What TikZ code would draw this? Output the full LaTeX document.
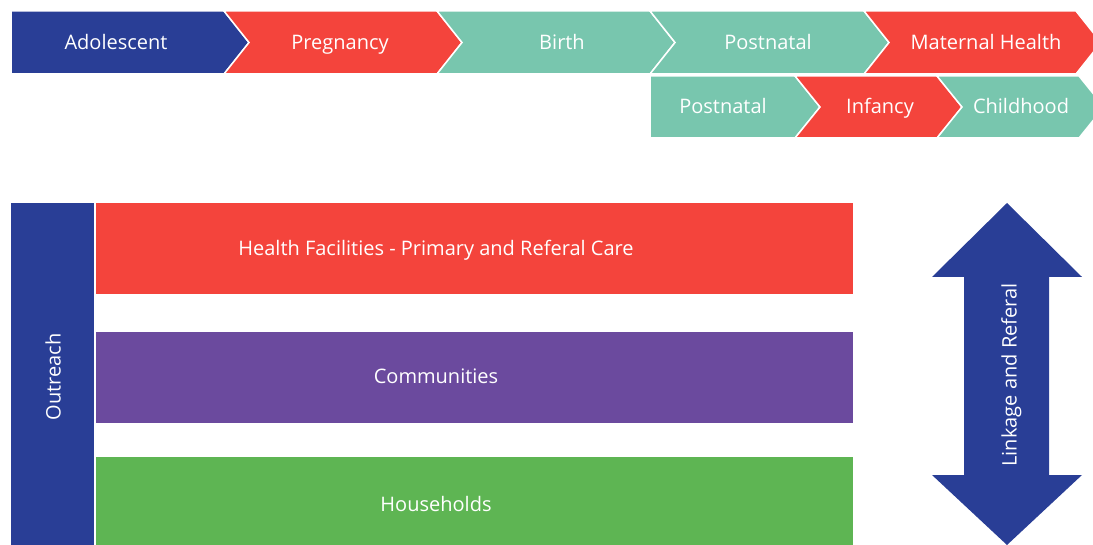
\documentclass[tikz,border=0pt]{standalone}
\usepackage{fontspec}
\setmainfont{Open Sans}
\definecolor{careblue}{HTML}{293E96}
\definecolor{carered}{HTML}{F4443C}
\definecolor{careteal}{HTML}{78C6AE}
\definecolor{carepurple}{HTML}{6B4A9E}
\definecolor{caregreen}{HTML}{5EB553}
\begin{document}
\begin{tikzpicture}[x=1pt,y=-1pt,
    lbl/.style={text=white, inner sep=0pt, text height=0.72em, text depth=0pt,
        font=\fontsize{20}{24}\selectfont}]
    \useasboundingbox (0,0) rectangle (1093,545);
    % continuum of care stages
    \begin{scope}[every path/.style={draw=white, line width=1.5pt}]
        \path[fill=careblue] (11,11) -- (224,11) -- (249,42.5) -- (224,74) -- (11,74) -- cycle;
        \path[fill=carered] (224,11) -- (437,11) -- (462,42.5) -- (437,74) -- (224,74) -- (249,42.5) -- cycle;
        \path[fill=careteal] (437,11) -- (650,11) -- (675,42.5) -- (650,74) -- (437,74) -- (462,42.5) -- cycle;
        \path[fill=careteal] (650,11) -- (864,11) -- (889,42.5) -- (864,74) -- (650,74) -- (675,42.5) -- cycle;
        \path[fill=carered] (864,11) -- (1076,11) -- (1101,42.5) -- (1076,74) -- (864,74) -- (889,42.5) -- cycle;
        \path[fill=careteal] (650,76) -- (795,76) -- (820,107) -- (795,138) -- (650,138) -- cycle;
        \path[fill=carered] (795,76) -- (937,76) -- (962,107) -- (937,138) -- (795,138) -- (820,107) -- cycle;
        \path[fill=careteal] (937,76) -- (1079,76) -- (1104,107) -- (1079,138) -- (937,138) -- (962,107) -- cycle;
    \end{scope}
    \node[lbl] (adol) at (116,45.5) {Adolescent};
    \node[lbl] (preg) at (340,45.5) {Pregnancy};
    \node[lbl] (birth) at (562,45.5) {Birth};
    \node[lbl] (postA) at (768,45.5) {Postnatal};
    \node[lbl] (mat) at (986,45.5) {Maternal Health};
    \node[lbl] (postB) at (723,110) {Postnatal};
    \node[lbl] (inf) at (880,110) {Infancy};
    \node[lbl] (child) at (1021,110) {Childhood};
    % levels of care
    \fill[careblue] (11,203) rectangle (94,545);
    \fill[carered] (96,203) rectangle (853,294);
    \fill[carepurple] (96,332) rectangle (853,423);
    \fill[caregreen] (96,457) rectangle (853,545);
    \node[lbl, rotate=90] (outreach) at (57,377) {Outreach};
    \node[lbl] (facil) at (436,251.5) {Health Facilities - Primary and Referal Care};
    \node[lbl] (comm) at (436,379.5) {Communities};
    \node[lbl] (house) at (436,507.5) {Households};
    % linkage arrow
    \fill[careblue] (1007,203) -- (1082,277) -- (1049,277) -- (1049,475) -- (1082,475)
        -- (1007,545) -- (932,475) -- (964,475) -- (964,277) -- (932,277) -- cycle;
    \node[lbl, rotate=90] (link) at (1013,375) {Linkage and Referal};
\end{tikzpicture}
\end{document}
